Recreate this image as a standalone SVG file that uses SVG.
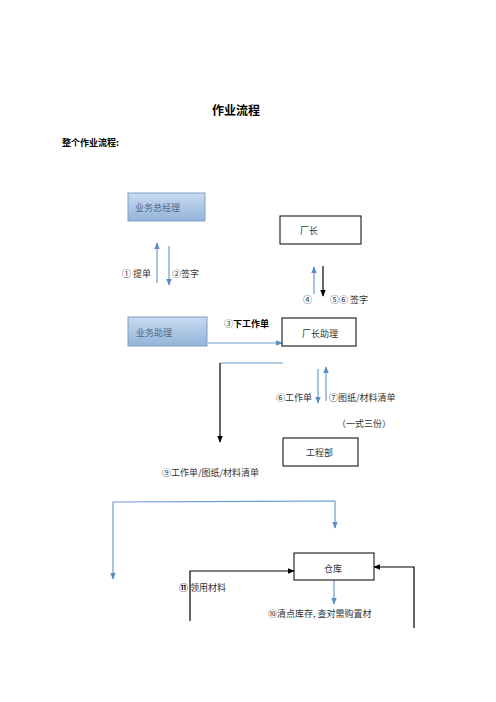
<svg xmlns="http://www.w3.org/2000/svg" width="496" height="702" viewBox="0 0 496 702">
<defs>
<linearGradient id="g" x1="0" y1="0" x2="0" y2="1">
<stop offset="0" stop-color="#c9dbf0"/>
<stop offset="1" stop-color="#93b3d9"/>
</linearGradient>
<marker id="ab" viewBox="0 0 10 10" refX="9" refY="5" markerWidth="6" markerHeight="6" orient="auto-start-reverse"><path d="M0,1 L10,5 L0,9 z" fill="#5b8cc4"/></marker>
<marker id="ak" viewBox="0 0 10 10" refX="9" refY="5" markerWidth="6" markerHeight="6" orient="auto-start-reverse"><path d="M0,1 L10,5 L0,9 z" fill="#000"/></marker>
</defs>
<style>
text{font-family:"Noto Sans CJK SC","Liberation Sans",sans-serif;font-size:9px;fill:#333}
.t{font-size:12px;font-weight:bold;fill:#000}
.h{font-size:9px;font-weight:bold;fill:#000}
.b{font-weight:bold;fill:#000}
.bl{fill:url(#g);stroke:#7a9fcc;stroke-width:1}
.wb{fill:#fff;stroke:#000;stroke-width:1}
.bt{fill:#4d6a8c}
.cb{fill:none;stroke:#6d9bd0;stroke-width:1.2}
.ck{fill:none;stroke:#000;stroke-width:1.2}
</style>
<rect width="496" height="702" fill="#fff"/>
<text class="t" x="212" y="115">作业流程</text>
<text class="h" x="62" y="146">整个作业流程:</text>

<g id="connectors">
<line class="cb" x1="157" y1="283" x2="157" y2="243" marker-end="url(#ab)"/>
<line class="cb" x1="169" y1="246" x2="169" y2="285" marker-end="url(#ab)"/>
<line class="cb" x1="314" y1="294" x2="314" y2="267" marker-end="url(#ab)"/>
<line class="ck" x1="323" y1="266" x2="323" y2="296" marker-end="url(#ak)"/>
<line class="cb" x1="208" y1="343" x2="282" y2="343" marker-end="url(#ab)"/>
<polyline class="cb" points="283,363 220,363"/>
<line class="ck" x1="220" y1="363" x2="220" y2="442" marker-end="url(#ak)"/>
<line class="cb" x1="318" y1="369" x2="318" y2="403" marker-end="url(#ab)"/>
<line class="cb" x1="326" y1="401" x2="326" y2="367" marker-end="url(#ab)"/>
<polyline class="cb" points="113,579 113,502 335,501 335,528" marker-end="url(#ab)" marker-start="url(#ab)"/>
<polyline class="ck" points="190,621 190,571 294,571" marker-end="url(#ak)"/>
<polyline class="ck" points="414,628 414,567 374,567" marker-end="url(#ak)"/>
<line class="cb" x1="334" y1="580" x2="334" y2="604" marker-end="url(#ab)"/>
</g>

<g id="n1"><rect class="bl" x="128" y="193" width="77" height="28"/><text class="bt" x="135" y="211">业务总经理</text></g>
<g id="n2"><rect class="wb" x="280" y="216" width="81" height="28"/><text x="300" y="234">厂长</text></g>
<g id="n3"><rect class="bl" x="128" y="317" width="79" height="29"/><text class="bt" x="136" y="336">业务助理</text></g>
<g id="n4"><rect class="wb" x="282" y="318" width="74" height="28"/><text x="302" y="337">厂长助理</text></g>
<g id="n5"><rect class="wb" x="283" y="438" width="75" height="28"/><text x="306" y="456">工程部</text></g>
<g id="n6"><rect class="wb" x="294" y="553" width="80" height="27"/><text x="324" y="572">仓库</text></g>

<g id="labels">
<text x="122" y="277">① 提单</text>
<text x="172" y="277">②签字</text>
<text x="303" y="303">④</text>
<text x="330" y="303">⑤⑥ 签字</text>
<text x="224" y="327">③<tspan class="b">下工作单</tspan></text>
<text x="276" y="401">⑥工作单</text>
<text x="329" y="401">⑦图纸/材料清单</text>
<text x="337" y="427">（一式三份）</text>
<text x="162" y="476">⑨工作单/图纸/材料清单</text>
<text x="179" y="591"><tspan class="b">⑪</tspan> 领用材料</text>
<text x="268" y="617">⑩清点库存, 查对需购置材</text>
</g>
</svg>
